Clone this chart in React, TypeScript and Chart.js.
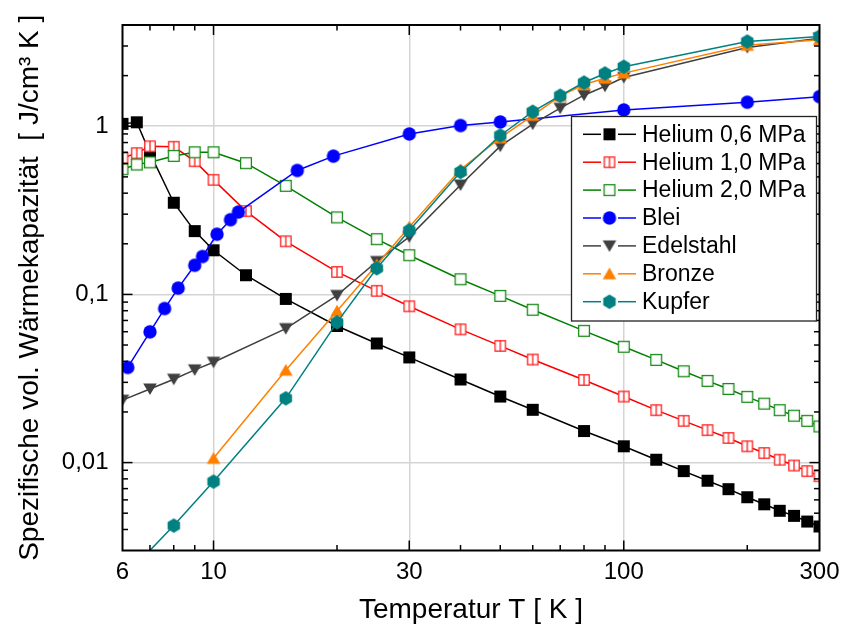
import React, { useEffect, useRef } from 'react';
import { Chart, registerables } from 'chart.js';

Chart.register(...registerables);

// ---------- data ----------
const T_HELIUM = [6, 6.5, 7, 8, 9, 10, 12, 15, 20, 25, 30, 40, 50, 60, 80, 100, 120, 140, 160, 180, 200, 220, 240, 260, 280, 300];
const HELIUM_06 = [1.033, 1.056, 0.692, 0.351, 0.238, 0.183, 0.130, 0.094, 0.0649, 0.0511, 0.0422, 0.0312, 0.0247, 0.0206, 0.0154, 0.0125, 0.0104, 0.0089, 0.0078, 0.00695, 0.00622, 0.00565, 0.00517, 0.00482, 0.00446, 0.00417];
const HELIUM_10 = [0.648, 0.692, 0.76, 0.755, 0.62, 0.48, 0.313, 0.207, 0.136, 0.105, 0.085, 0.062, 0.0494, 0.041, 0.031, 0.0247, 0.0205, 0.0177, 0.0156, 0.014, 0.0125, 0.0114, 0.0104, 0.0096, 0.0089, 0.0083];
const HELIUM_20 = [0.555, 0.592, 0.61, 0.666, 0.70, 0.70, 0.603, 0.442, 0.287, 0.213, 0.171, 0.123, 0.098, 0.081, 0.0607, 0.0488, 0.0408, 0.0349, 0.0306, 0.0274, 0.0246, 0.0224, 0.0205, 0.019, 0.0177, 0.0164];

const T_BLEI = [6.18, 7, 7.6, 8.2, 9, 9.4, 10.2, 11, 11.5, 16, 19.6, 30, 40, 50, 100, 200, 300];
const BLEI = [0.0368, 0.0599, 0.0824, 0.109, 0.149, 0.168, 0.228, 0.278, 0.309, 0.546, 0.664, 0.90, 1.01, 1.06, 1.25, 1.39, 1.50];

const T_EDELSTAHL = [6, 7, 8, 9, 10, 15, 20, 25, 30, 40, 50, 60, 70, 80, 90, 100, 200, 300];
const EDELSTAHL = [0.0235, 0.0274, 0.0313, 0.0356, 0.0395, 0.0626, 0.0986, 0.157, 0.220, 0.447, 0.761, 1.03, 1.28, 1.53, 1.73, 1.95, 2.94, 3.34];

const T_BRONZE = [10, 15, 20, 25, 30, 40, 50, 60, 70, 80, 90, 100, 200, 300];
const BRONZE = [0.0106, 0.0354, 0.0797, 0.150, 0.252, 0.553, 0.852, 1.16, 1.51, 1.77, 1.93, 2.07, 3.03, 3.27];

const T_KUPFER = [6, 8, 10, 15, 20, 25, 30, 40, 50, 60, 70, 80, 90, 100, 200, 300];
const KUPFER = [0.00203, 0.00422, 0.00771, 0.0241, 0.0682, 0.143, 0.240, 0.535, 0.881, 1.22, 1.52, 1.82, 2.06, 2.26, 3.19, 3.42];

const SERIES_LABELS = ['Helium 0,6 MPa', 'Helium 1,0 MPa', 'Helium 2,0 MPa', 'Blei', 'Edelstahl', 'Bronze', 'Kupfer'];

const X_MIN = 6;
const X_MAX = 300;
const Y_MIN = 0.003;
const Y_MAX = 4;
const X_TICKS = [6, 10, 30, 100, 300];
const Y_TICKS = [0.01, 0.1, 1];
const X_MINOR = [7, 8, 9, 20, 40, 50, 60, 70, 80, 90, 200];
const X_TITLE = 'Temperatur T [ K ]';
const Y_TITLE = 'Spezifische vol. Wärmekapazität  [ J/cm³ K ]';

const FONT = '"Liberation Sans", Arial, Helvetica, sans-serif';

// ---------- markers ----------
function makeMarker(kind: string, color: string): HTMLCanvasElement {
  const s = 18;
  const c = document.createElement('canvas');
  c.width = s;
  c.height = s;
  const g = c.getContext('2d') as CanvasRenderingContext2D;
  const m = s / 2;
  g.fillStyle = color;
  g.strokeStyle = color;
  g.lineWidth = 1.3;
  if (kind === 'square') {
    g.fillRect(m - 6, m - 6, 12, 12);
  } else if (kind === 'squareSplit') {
    g.fillStyle = '#fff';
    g.fillRect(m - 5.2, m - 5.2, 10.4, 10.4);
    g.strokeRect(m - 5.2, m - 5.2, 10.4, 10.4);
    g.beginPath();
    g.moveTo(m, m - 5.2);
    g.lineTo(m, m + 5.2);
    g.stroke();
  } else if (kind === 'squareOpen') {
    g.fillStyle = '#fff';
    g.fillRect(m - 5.4, m - 5.4, 10.8, 10.8);
    g.strokeRect(m - 5.4, m - 5.4, 10.8, 10.8);
  } else if (kind === 'circle') {
    g.beginPath();
    g.arc(m, m, 6.7, 0, Math.PI * 2);
    g.fill();
  } else if (kind === 'triDown') {
    g.beginPath();
    g.moveTo(m - 6.8, m - 5.5);
    g.lineTo(m + 6.8, m - 5.5);
    g.lineTo(m, m + 6);
    g.closePath();
    g.fill();
  } else if (kind === 'triUp') {
    g.beginPath();
    g.moveTo(m - 6.8, m + 5.5);
    g.lineTo(m + 6.8, m + 5.5);
    g.lineTo(m, m - 6.3);
    g.closePath();
    g.fill();
  } else if (kind === 'hexagon') {
    g.beginPath();
    for (let i = 0; i < 6; i++) {
      const a = Math.PI / 2 + (i * Math.PI) / 3;
      const px = m + 7.2 * Math.cos(a);
      const py = m + 7.2 * Math.sin(a);
      if (i === 0) g.moveTo(px, py);
      else g.lineTo(px, py);
    }
    g.closePath();
    g.fill();
  }
  return c;
}

const framePlugin = {
  id: 'frameTicksLegend',
  afterDraw(chart: any) {
    const { ctx, chartArea: a } = chart;
    const xs = chart.scales.x;
    const ys = chart.scales.y;
    ctx.save();
    ctx.strokeStyle = '#000';
    ctx.lineWidth = 1.5;
    const seg = (x1: number, y1: number, x2: number, y2: number) => {
      ctx.beginPath();
      ctx.moveTo(x1, y1);
      ctx.lineTo(x2, y2);
      ctx.stroke();
    };
    const xAll = X_TICKS.map((v) => [v, 1]).concat(X_MINOR.map((v) => [v, 0]));
    for (const [v, major] of xAll) {
      if (v <= X_MIN || v >= X_MAX) continue;
      const px = xs.getPixelForValue(v);
      const len = major ? 10 : 5.5;
      seg(px, a.bottom, px, a.bottom - len);
      seg(px, a.top, px, a.top + len);
    }
    const yAll: number[][] = [];
    for (let d = -3; d <= 0; d++) {
      const base = Math.pow(10, d);
      for (let k = 1; k <= 9; k++) {
        const v = base * k;
        if (v <= Y_MIN * 1.0001 || v >= Y_MAX * 0.9999) continue;
        yAll.push([v, k === 1 ? 1 : 0]);
      }
    }
    for (const [v, major] of yAll) {
      const py = ys.getPixelForValue(v);
      const len = major ? 10 : 5.5;
      seg(a.left, py, a.left + len, py);
      seg(a.right, py, a.right - len, py);
    }
    ctx.lineWidth = 2;
    ctx.strokeRect(a.left, a.top, a.right - a.left, a.bottom - a.top);

    // legend
    const lx = 571.5, ly = 116.5, lw = 245, lh = 204.5;
    ctx.fillStyle = '#fff';
    ctx.fillRect(lx, ly, lw, lh);
    ctx.lineWidth = 1.3;
    ctx.strokeStyle = '#222';
    ctx.strokeRect(lx, ly, lw, lh);
    ctx.font = `23px ${FONT}`;
    ctx.textBaseline = 'middle';
    ctx.textAlign = 'left';
    chart.data.datasets.forEach((ds: any, i: number) => {
      const ry = 134.3 + i * 27.9;
      ctx.strokeStyle = ds.borderColor;
      ctx.lineWidth = 1.5;
      seg(583, ry, 601, ry);
      seg(618, ry, 636, ry);
      const img = ds.pointStyle as HTMLCanvasElement;
      ctx.drawImage(img, 609.5 - img.width / 2, ry - img.height / 2);
      ctx.fillStyle = '#000';
      ctx.fillText(ds.label, 642, ry + 1);
    });
    ctx.restore();
  },
};

export default function App() {
  const ref = useRef<HTMLCanvasElement | null>(null);
  useEffect(() => {
    const canvas = ref.current;
    if (!canvas) return;
    const spec = [
      { t: T_HELIUM, v: HELIUM_06, color: '#000000', marker: makeMarker('square', '#000000') },
      { t: T_HELIUM, v: HELIUM_10, color: '#ff0000', marker: makeMarker('squareSplit', '#ff2020') },
      { t: T_HELIUM, v: HELIUM_20, color: '#008000', marker: makeMarker('squareOpen', '#1a8a1a') },
      { t: T_BLEI, v: BLEI, color: '#0000ff', marker: makeMarker('circle', '#0000ff') },
      { t: T_EDELSTAHL, v: EDELSTAHL, color: '#404040', marker: makeMarker('triDown', '#404040') },
      { t: T_BRONZE, v: BRONZE, color: '#ff8000', marker: makeMarker('triUp', '#ff8000') },
      { t: T_KUPFER, v: KUPFER, color: '#008080', marker: makeMarker('hexagon', '#008080') },
    ];
    const datasets = spec.map((s, i) => ({
      label: SERIES_LABELS[i],
      data: s.t.map((t, j) => ({ x: t, y: s.v[j] })),
      borderColor: s.color,
      backgroundColor: s.color,
      borderWidth: 1.5,
      pointStyle: s.marker,
      pointRadius: 6,
      pointHoverRadius: 6,
      fill: false,
      tension: 0,
      order: spec.length - i,
    }));
    const chart = new Chart(canvas, {
      type: 'line',
      data: { datasets } as any,
      options: {
        animation: false,
        responsive: false,
        maintainAspectRatio: false,
        events: [],
        layout: { padding: { top: 25, right: 23.5, left: 0, bottom: 0 } },
        plugins: { legend: { display: false }, tooltip: { enabled: false } },
        scales: {
          x: {
            type: 'logarithmic',
            min: X_MIN,
            max: X_MAX,
            afterBuildTicks: (scale: any) => {
              scale.ticks = X_TICKS.map((v) => ({ value: v }));
            },
            afterFit: (scale: any) => {
              scale.height = 85.5;
              scale.paddingLeft = 0;
              scale.paddingRight = 0;
              scale.paddingTop = 0;
              scale.paddingBottom = 0;
            },
            ticks: {
              autoSkip: false,
              maxRotation: 0,
              padding: 7,
              color: '#000',
              font: { family: FONT, size: 24 },
              callback: (v: any) => String(v),
            },
            grid: {
              drawTicks: false,
              color: (c: any) => (c.tick && (c.tick.value === X_MIN || c.tick.value === X_MAX) ? 'rgba(0,0,0,0)' : '#d4d4d4'),
              lineWidth: 1.5,
            },
            border: { display: false },
            title: {
              display: true,
              text: X_TITLE,
              color: '#000',
              font: { family: FONT, size: 28 },
              padding: { top: 0, bottom: 9 },
            },
          },
          y: {
            type: 'logarithmic',
            min: Y_MIN,
            max: Y_MAX,
            afterBuildTicks: (scale: any) => {
              scale.ticks = Y_TICKS.map((v) => ({ value: v }));
            },
            afterFit: (scale: any) => {
              scale.width = 122.5;
              scale.paddingLeft = 0;
              scale.paddingRight = 0;
              scale.paddingTop = 0;
              scale.paddingBottom = 0;
            },
            ticks: {
              autoSkip: false,
              padding: 14,
              color: '#000',
              font: { family: FONT, size: 24 },
              callback: (v: any) => String(v).replace('.', ','),
            },
            grid: {
              drawTicks: false,
              color: '#d4d4d4',
              lineWidth: 1.5,
            },
            border: { display: false },
            title: {
              display: true,
              text: Y_TITLE,
              color: '#000',
              font: { family: FONT, size: 28 },
              padding: { top: 13, bottom: 0 },
            },
          },
        },
      },
      plugins: [framePlugin],
    } as any);
    return () => chart.destroy();
  }, []);
  return (
    <div style={{ position: 'fixed', left: 0, top: 0, width: 843, height: 636, background: '#fff' }}>
      <canvas ref={ref} width={843} height={636} style={{ display: 'block', width: 843, height: 636 }} />
    </div>
  );
}
